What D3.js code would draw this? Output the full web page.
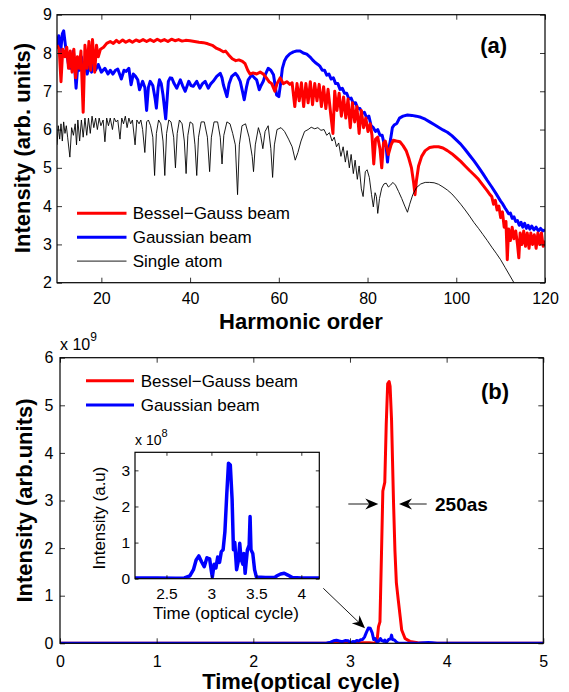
<!DOCTYPE html>
<html>
<head>
<meta charset="utf-8">
<script src="https://cdn.jsdelivr.net/npm/d3@7"></script>
<style>
body { margin: 0; background: #fff; }
svg { display: block; }
text { font-family: "Liberation Sans", Arial, Helvetica, sans-serif; fill: #000; }
</style>
</head>
<body>
<script>
// ---------------- data: panel (a), harmonic spectra (log10 intensity) ----------------
var besselGauss = [
  [10,8.2],[10.5,8.1],[10.9,7.25],[11.3,8.1],[11.8,7.9],[12.2,8.15],[12.6,7.6],[13,8.05],[13.4,7.5],[13.8,8.1],
  [14.2,7.35],[14.6,7.9],[15,7.6],[15.4,8.05],[15.9,6.45],[16.3,8.2],[16.8,7.6],[17.2,8.3],[17.6,7.55],[18,8.35],
  [18.5,7.5],[18.9,8.2],[19.3,7.9],[19.8,8.1],[20.5,8.15],[21.2,8.25],[22,8.3],[22.7,8.25],[23.4,8.33],[24,8.27],
  [24.8,8.34],[25.5,8.28],[26.3,8.33],[27,8.28],[27.8,8.34],[28.6,8.3],[29.4,8.35],[30.2,8.3],[31,8.35],[31.8,8.3],
  [32.6,8.36],[33.4,8.31],[34.2,8.35],[35,8.3],[35.8,8.36],[36.6,8.32],[37.4,8.35],[38.2,8.31],[39,8.33],[40,8.32],
  [41,8.3],[42,8.28],[43,8.27],[44,8.24],[45,8.2],[46,8.12],[46.8,8.08],[47.5,8.03],[48,8.05],[48.7,7.95],
  [49.5,7.85],[50.3,7.8],[51,7.82],[51.8,7.78],[52.4,7.72],[53,7.55],[53.5,7.45],[54.2,7.48],[55,7.45],[55.8,7.5],
  [56.5,7.45],[57.2,7.35],[57.8,7.25],[58.4,7.2],[59.1,7.0],[59.6,7.2],[60.3,7.35],[61,7.2],[61.8,7.25],[62.5,7.18],
  [63,7.22],[63.6,6.6],[64.1,7.2],[64.6,6.75],[65.1,7.22],[65.6,6.6],[66.1,7.2],[66.6,6.7],[67.1,7.25],[67.6,6.65],
  [68.1,7.2],[68.6,6.75],[69.1,7.18],[69.6,6.6],[70.1,7.12],[70.6,6.55],[71.1,7.05],[71.7,6.4],[72.2,5.9],[72.6,7.0],
  [73.1,6.5],[73.6,6.95],[74.1,6.35],[74.6,6.85],[75.1,6.3],[75.6,6.8],[76.1,6.05],[76.6,6.7],[77.1,6.2],[77.6,6.6],
  [78.1,5.9],[78.6,6.5],[79.1,6.05],[79.6,6.3],[80.1,5.95],[80.6,6.15],[81,5.85],[81.4,5.1],[81.8,5.75],[82.3,5.8],
  [82.8,5.5],[83.2,5.0],[83.6,5.65],[84,5.7],[84.7,5.35],[85.3,5.6],[85.8,5.72],[86.5,5.7],[87.3,5.68],[88,5.58],
  [88.7,5.45],[89.3,5.25],[89.9,5.0],[90.4,4.6],[90.7,4.3],[91,4.65],[91.5,5.05],[92.2,5.3],[93,5.45],[94,5.53],
  [95,5.55],[96,5.55],[97,5.52],[98,5.45],[99,5.37],[100,5.27],[101,5.17],[102,5.05],[103,4.93],[104,4.82],
  [105,4.7],[106,4.55],[107,4.4],[107.6,4.3],[108,4.25],[108.4,4.05],[108.8,4.15],[109.2,3.9],[109.6,4.0],[110,3.7],
  [110.4,3.85],[110.8,3.45],[111.2,3.6],[111.5,2.6],[111.8,3.4],[112.2,3.1],[112.6,3.45],[113,3.15],[113.4,3.35],[113.8,3.0],
  [114.1,2.65],[114.4,3.3],[114.8,3.0],[115.2,3.35],[115.6,2.95],[116,3.3],[116.4,2.9],[116.8,3.3],[117.2,3.0],[117.6,3.25],
  [118,2.9],[118.4,3.3],[118.8,3.0],[119.2,3.3],[119.6,2.95],[120,3.1]
];

var gaussian = [
  [10,8.2],[10.4,8.45],[10.8,8.0],[11.2,8.5],[11.5,8.58],[11.9,8.2],[12.2,8.0],[12.6,7.7],[13,7.6],[13.4,7.9],
  [13.7,8.05],[14,7.6],[14.3,7.08],[14.7,7.7],[15.1,7.55],[15.5,7.9],[15.9,7.5],[16.3,7.7],[16.8,7.45],[17.3,7.65],
  [17.8,7.5],[18.2,7.78],[18.7,7.55],[19.3,7.7],[20,7.5],[20.8,7.6],[21.5,7.45],[22,7.55],[22.6,7.45],[23.2,7.55],
  [23.7,7.58],[24.5,7.32],[25.1,7.55],[25.6,7.52],[26.2,7.6],[26.7,7.17],[27.2,7.45],[27.7,7.39],[28.2,7.3],[28.6,7.04],
  [29.3,7.26],[29.8,7.1],[30.2,6.5],[30.6,7.1],[31,7.26],[31.6,7.15],[32.1,6.82],[32.4,6.56],[32.8,7.1],[33.1,7.3],
  [33.5,7.2],[33.9,6.9],[34.5,6.28],[35.1,7.26],[35.5,7.35],[35.9,7.34],[36.4,7.2],[37,7.08],[37.8,7.3],[38.3,7.15],
  [38.9,7.0],[39.7,7.26],[40.2,7.15],[40.7,7.13],[41.5,7.26],[42.2,7.08],[42.8,7.2],[43.4,7.26],[44.1,7.08],[44.7,7.2],
  [45.2,7.26],[46,7.39],[46.8,7.47],[47.2,7.35],[47.5,7.17],[48.3,6.86],[48.8,7.2],[49.4,7.39],[50.2,7.47],[50.7,7.4],
  [51.3,7.26],[51.8,7.0],[52.2,6.78],[52.7,7.1],[53.1,7.3],[53.9,7.43],[54.5,7.35],[55,7.3],[55.6,7.04],[56,7.15],
  [56.5,7.26],[57,7.45],[57.6,7.6],[58.2,7.55],[58.8,7.43],[59.5,6.9],[60,6.86],[60.4,7.2],[60.8,7.6],[61.3,7.8],
  [61.8,7.9],[62.5,7.98],[63.3,8.03],[64,8.05],[64.8,8.05],[65.5,8.0],[66.3,7.97],[67,7.9],[67.6,7.82],[68.2,7.75],
  [68.8,7.7],[69.3,7.65],[69.8,7.55],[70.3,7.55],[70.8,7.42],[71.3,7.45],[71.8,7.32],[72.3,7.35],[72.8,7.2],[73.3,7.2],
  [73.8,7.05],[74.3,7.08],[74.8,6.95],[75.3,6.95],[75.8,6.8],[76.3,6.82],[76.8,6.68],[77.3,6.7],[77.8,6.55],[78.3,6.55],
  [78.8,6.42],[79.3,6.45],[79.8,6.3],[80.3,6.35],[80.8,6.1],[81.3,6.05],[81.8,5.95],[82.3,6.0],[82.8,5.85],[83.3,5.85],
  [83.8,5.6],[84.2,5.55],[84.5,5.15],[84.8,5.5],[85.2,5.75],[85.6,6.05],[86,6.12],[86.6,6.16],[87.2,6.3],[88,6.35],
  [89,6.38],[90,6.37],[91,6.35],[92,6.32],[93,6.27],[94,6.2],[95,6.13],[96,6.06],[97,5.99],[98,5.93],
  [99,5.84],[100,5.73],[101,5.62],[102,5.48],[103,5.33],[104,5.18],[105,5.02],[106,4.85],[107,4.67],[108,4.5],
  [109,4.32],[110,4.13],[110.5,4.05],[111,3.95],[111.4,3.88],[111.8,3.8],[112.2,3.82],[112.6,3.68],[113,3.72],[113.4,3.6],
  [113.8,3.62],[114.2,3.5],[114.6,3.58],[115,3.45],[115.4,3.55],[115.8,3.42],[116.2,3.5],[116.6,3.4],[117,3.48],[117.5,3.38],
  [118,3.45],[118.5,3.35],[119,3.42],[119.5,3.35],[120,3.38]
];

var singleAtom = [
  [10,5.6],[10.3,6.1],[10.6,5.75],[10.9,6.15],[11.2,5.7],[11.5,6.2],[11.8,5.9],[12.1,6.1],[12.4,5.8],[12.9,5.28],
  [13.3,6.05],[13.7,5.85],[14.1,6.15],[14.4,5.6],[14.7,6.25],[15.1,5.7],[15.5,6.25],[15.9,5.8],[16.3,6.3],[16.7,5.85],
  [17.1,6.3],[17.5,5.9],[17.9,6.35],[18.3,6.05],[18.7,6.3],[19.1,6.0],[19.5,6.3],[19.9,6.1],[20.4,6.25],[20.8,5.68],
  [21.2,6.3],[21.6,6.1],[22,6.3],[22.5,6.0],[22.9,6.3],[23.3,6.2],[23.7,6.25],[24.2,5.75],[24.6,6.3],[25,6.15],
  [25.4,6.35],[25.8,6.05],[26.2,6.3],[26.6,6.15],[27,6.25],[27.6,5.6],[28,6.25],[28.5,6.15],[28.9,6.25],[29.3,6.0],
  [29.8,5.4],[30.2,6.2],[30.6,6.25],[31.1,6.1],[31.6,5.8],[32,4.8],[32.4,5.9],[32.9,6.25],[33.4,6.15],[33.9,5.7],
  [34.3,4.8],[34.7,5.9],[35.2,6.25],[35.7,6.2],[36.3,5.8],[36.7,5.0],[37.1,5.9],[37.6,6.25],[38.2,6.15],[38.7,5.7],
  [39.1,4.85],[39.5,5.85],[40,6.2],[40.6,6.15],[41.1,5.6],[41.5,4.8],[41.9,5.8],[42.5,6.2],[43.2,6.2],[43.9,5.8],
  [44.4,4.9],[44.8,5.8],[45.4,6.2],[46.2,6.2],[46.8,5.8],[47.2,5.1],[47.6,5.85],[48.3,6.2],[49,6.15],[49.6,5.9],
  [50.2,5.6],[50.7,4.3],[51.1,5.6],[51.7,6.1],[52.5,6.15],[53.3,5.8],[54,5.3],[54.3,4.9],[54.7,5.6],[55.4,6.05],
  [55.9,5.85],[56.4,5.5],[56.9,5.95],[57.6,6.1],[58.2,5.5],[58.6,4.75],[59,5.6],[59.6,6.0],[60.5,6.05],[61.3,5.95],
  [62.2,5.75],[63,5.55],[63.7,5.2],[64.3,5.4],[65,5.7],[65.8,5.95],[66.6,6.0],[67.3,6.06],[68.1,6.02],[68.8,6.05],
  [69.5,5.98],[70.2,6.0],[70.8,5.85],[71.4,5.92],[72,5.7],[72.5,5.8],[73,5.55],[73.5,5.65],[74,5.3],[74.5,5.55],
  [75,5.15],[75.4,5.45],[75.9,5.0],[76.3,5.35],[76.8,4.85],[77.2,5.2],[77.7,4.7],[78.1,5.05],[78.6,4.45],[79,4.25],
  [79.5,4.9],[79.9,4.95],[80.4,4.75],[80.9,4.3],[81.3,3.98],[81.7,4.35],[82,4.25],[82.3,3.81],[82.7,4.2],[83.2,4.47],
  [83.7,4.58],[84.2,4.6],[84.7,4.5],[85.2,4.55],[85.7,4.62],[86.3,4.55],[87,4.38],[87.7,4.2],[88.4,4.0],[89,3.84],
  [89.5,4.05],[90.2,4.3],[91,4.48],[92,4.58],[93,4.62],[94,4.62],[95,4.61],[96,4.57],[97,4.5],[98,4.42],
  [99,4.32],[100,4.19],[101,4.05],[102,3.9],[103,3.74],[104,3.57],[105,3.42],[106,3.26],[107,3.1],[108,2.93],
  [109,2.77],[110,2.6],[111,2.4],[112,2.2],[113,2.0],[114,1.78]
];

// ---------------- data: panel (b), attosecond pulses ----------------
// red pulse in units of 1e9, blue pulse in units of 1e8
var besselPulse = [
  [0,0],[2.8,0],[2.9,0.01],[3.0,0],[3.1,0.01],[3.2,0.01],[3.25,0],[3.28,0.05],[3.295,0.35],[3.31,0.45],
  [3.325,1.8],[3.34,3.2],[3.36,3.38],[3.375,4.6],[3.39,5.45],[3.405,5.5],[3.415,5.4],[3.43,4.7],[3.45,3.0],[3.465,1.95],
  [3.48,1.27],[3.5,0.9],[3.52,0.55],[3.535,0.28],[3.57,0.1],[3.62,0.04],[3.7,0.01],[3.8,0],[5,0]
];
var gaussPulse = [
  [0,0.02],[2.4,0.02],[2.6,0.01],[2.7,0.02],[2.76,0.08],[2.8,0.25],[2.83,0.52],[2.86,0.63],[2.89,0.47],[2.92,0.33],
  [2.95,0.58],[2.98,0.55],[3.0,0.2],[3.01,0.05],[3.03,0.4],[3.05,0.3],[3.07,0.6],[3.09,0.45],[3.11,0.75],[3.13,0.8],
  [3.15,1.3],[3.17,2.3],[3.19,3.2],[3.21,3.15],[3.23,2.2],[3.245,0.8],[3.26,1.0],[3.28,0.25],[3.3,0.5],[3.315,0.98],
  [3.33,0.55],[3.35,0.4],[3.36,0.7],[3.375,0.15],[3.4,0.8],[3.42,0.93],[3.43,1.72],[3.44,0.8],[3.46,0.7],[3.48,0.25],
  [3.5,0.05],[3.6,0.03],[3.7,0.03],[3.73,0.08],[3.77,0.13],[3.81,0.15],[3.85,0.1],[3.9,0.03],[4.0,0.02],[5,0.02]
];

var ticksA_x = [20, 40, 60, 80, 100, 120];
var ticksA_y = [2, 3, 4, 5, 6, 7, 8, 9];
var ticksB_x = [0, 1, 2, 3, 4, 5];
var ticksB_y = [0, 1, 2, 3, 4, 5, 6];      // x 10^9
var ticksIn_x = [2.5, 3, 3.5, 4];
var ticksIn_y = [0, 1, 2, 3];              // x 10^8

var legendA = ["Bessel\u2212Gauss beam", "Gaussian beam", "Single atom"];
var legendB = ["Bessel\u2212Gauss beam", "Gaussian beam"];

var RED = "#ff0000", BLUE = "#0000ff";

var svg = d3.select("body").append("svg").attr("width", 569).attr("height", 692);

function plain(d) { return String(d); }

// draws a MATLAB style box with inward ticks on all four sides
function box(g, x, y, xt, yt, o) {
	var xr = x.range(), yr = y.range();
	g.append("g").attr("transform", "translate(0," + yr[0] + ")")
		.call(d3.axisBottom(x).tickValues(xt).tickSizeInner(-o.len).tickSizeOuter(0).tickPadding(o.padX).tickFormat(o.fx || plain));
	g.append("g").attr("transform", "translate(0," + yr[1] + ")")
		.call(d3.axisTop(x).tickValues(xt).tickSizeInner(-o.len).tickSizeOuter(0).tickFormat(""));
	g.append("g").attr("transform", "translate(" + xr[0] + ",0)")
		.call(d3.axisLeft(y).tickValues(yt).tickSizeInner(-o.len).tickSizeOuter(0).tickPadding(o.padY).tickFormat(o.fy || plain));
	g.append("g").attr("transform", "translate(" + xr[1] + ",0)")
		.call(d3.axisRight(y).tickValues(yt).tickSizeInner(-o.len).tickSizeOuter(0).tickFormat(""));
	g.selectAll(".domain").remove();
	g.selectAll(".tick line").attr("stroke", "#000").attr("stroke-width", 0.8);
	g.selectAll(".tick text").attr("font-size", o.fs).attr("font-family", "Liberation Sans, Arial, sans-serif").attr("fill", "#000");
	g.append("rect").attr("x", xr[0]).attr("y", yr[1]).attr("width", xr[1] - xr[0]).attr("height", yr[0] - yr[1])
		.attr("fill", "none").attr("stroke", "#000").attr("stroke-width", 1.2);
}

function clip(id, x, y) {
	svg.append("clipPath").attr("id", id).append("rect")
		.attr("x", x.range()[0]).attr("y", y.range()[1])
		.attr("width", x.range()[1] - x.range()[0]).attr("height", y.range()[0] - y.range()[1]);
}

// arrow head (concave back) at (x2,y2), line from (x1,y1)
function arrow(g, x1, y1, x2, y2, len, half, notch) {
	var a = Math.atan2(y2 - y1, x2 - x1), c = Math.cos(a), s = Math.sin(a);
	g.append("line").attr("x1", x1).attr("y1", y1).attr("x2", x2 - c * notch).attr("y2", y2 - s * notch)
		.attr("stroke", "#000").attr("stroke-width", 0.9);
	var bx = x2 - c * len, by = y2 - s * len;
	var p = [[x2, y2], [bx - s * half, by + c * half], [x2 - c * (len - notch), y2 - s * (len - notch)], [bx + s * half, by - c * half]];
	g.append("path").attr("d", "M" + p.join("L") + "Z").attr("fill", "#000");
}

////////////////////////////////////////////////////////////////////////////////
// panel (a)
var xa = d3.scaleLinear().domain([10, 120]).range([57, 545]);
var ya = d3.scaleLinear().domain([2, 9]).range([282.7, 14.7]);
clip("clipA", xa, ya);

var lineA = d3.line().x(function(d) { return xa(d[0]); }).y(function(d) { return ya(d[1]); });
var gA = svg.append("g");
var plotA = gA.append("g").attr("clip-path", "url(#clipA)");
plotA.append("path").datum(gaussian).attr("d", lineA).attr("fill", "none").attr("stroke", BLUE).attr("stroke-width", 3).attr("stroke-linejoin", "round");
plotA.append("path").datum(besselGauss).attr("d", lineA).attr("fill", "none").attr("stroke", RED).attr("stroke-width", 3).attr("stroke-linejoin", "round");
plotA.append("path").datum(singleAtom).attr("d", lineA).attr("fill", "none").attr("stroke", "#000").attr("stroke-width", 0.9);

box(gA, xa, ya, ticksA_x, ticksA_y, {len: 5, padX: 10, padY: 5, fs: 16});

// legend (a)
var legA = gA.append("g");
[[RED, 3], [BLUE, 3], ["#000", 0.9]].forEach(function(st, i) {
	var yy = 213.3 + i * 23.9;
	legA.append("line").attr("x1", 77).attr("x2", 126.5).attr("y1", yy).attr("y2", yy).attr("stroke", st[0]).attr("stroke-width", st[1]);
	legA.append("text").attr("x", 132.7).attr("y", yy).attr("dy", "0.35em").attr("font-size", 17).text(legendA[i]);
});

gA.append("text").attr("x", 493.7).attr("y", 45).attr("dy", "0.35em").attr("text-anchor", "middle")
	.attr("font-size", 22).attr("font-weight", "bold").text("(a)");
gA.append("text").attr("x", 301).attr("y", 328.5).attr("text-anchor", "middle")
	.attr("font-size", 22).attr("font-weight", "bold").text("Harmonic order");
gA.append("text").attr("transform", "translate(30,148) rotate(-90)").attr("text-anchor", "middle")
	.attr("font-size", 22).attr("font-weight", "bold").text("Intensity (arb. units)");

////////////////////////////////////////////////////////////////////////////////
// panel (b)
var xb = d3.scaleLinear().domain([0, 5]).range([60, 543.3]);
var yb = d3.scaleLinear().domain([0, 6e9]).range([643.3, 357.7]);
clip("clipB", xb, yb);

var gB = svg.append("g");
var plotB = gB.append("g").attr("clip-path", "url(#clipB)");
var lineRedB = d3.line().x(function(d) { return xb(d[0]); }).y(function(d) { return yb(d[1] * 1e9); });
var lineBlueB = d3.line().x(function(d) { return xb(d[0]); }).y(function(d) { return yb(d[1] * 1e8); });
plotB.append("path").datum(besselPulse).attr("d", lineRedB).attr("fill", "none").attr("stroke", RED).attr("stroke-width", 3).attr("stroke-linejoin", "round");
plotB.append("path").datum(gaussPulse).attr("d", lineBlueB).attr("fill", "none").attr("stroke", BLUE).attr("stroke-width", 3).attr("stroke-linejoin", "round");

box(gB, xb, yb, ticksB_x, ticksB_y.map(function(v) { return v * 1e9; }),
	{len: 5, padX: 12, padY: 6.5, fs: 16, fy: function(d) { return String(Math.round(d / 1e9)); }});

var legB = gB.append("g");
[RED, BLUE].forEach(function(c, i) {
	var yy = 380.7 + i * 24.3;
	legB.append("line").attr("x1", 86).attr("x2", 134).attr("y1", yy).attr("y2", yy).attr("stroke", c).attr("stroke-width", 3);
	legB.append("text").attr("x", 140.7).attr("y", yy).attr("dy", "0.35em").attr("font-size", 17).text(legendB[i]);
});

var expB = gB.append("text").attr("x", 60).attr("y", 350).attr("font-size", 16);
expB.append("tspan").text("x 10");
expB.append("tspan").attr("font-size", 12).attr("dy", -9).text("9");

gB.append("text").attr("x", 495).attr("y", 391.7).attr("dy", "0.35em").attr("text-anchor", "middle")
	.attr("font-size", 22).attr("font-weight", "bold").text("(b)");
gB.append("text").attr("x", 301).attr("y", 688.5).attr("text-anchor", "middle")
	.attr("font-size", 22).attr("font-weight", "bold").text("Time(optical cycle)");
gB.append("text").attr("transform", "translate(32,500.5) rotate(-90)").attr("text-anchor", "middle")
	.attr("font-size", 22).attr("font-weight", "bold").text("Intensity (arb.units)");

// FWHM arrows
arrow(gB, 348.3, 504, 378.3, 504, 13, 5.5, 4);
arrow(gB, 426.7, 504, 399, 504, 13, 5.5, 4);
gB.append("text").attr("x", 435).attr("y", 504).attr("dy", "0.35em")
	.attr("font-size", 19).attr("font-weight", "bold").text("250as");

// pointer to the Gaussian pulse
arrow(gB, 323.3, 588.3, 365, 628.3, 13, 5.5, 4);

////////////////////////////////////////////////////////////////////////////////
// inset
var xi = d3.scaleLinear().domain([2.15, 4.2]).range([135, 319.3]);
var yi = d3.scaleLinear().domain([0, 3.5e8]).range([578.7, 452.3]);
clip("clipI", xi, yi);

var gI = svg.append("g");
gI.append("rect").attr("x", 135).attr("y", 452.3).attr("width", 184.3).attr("height", 126.4).attr("fill", "#fff");
var lineI = d3.line().x(function(d) { return xi(d[0]); }).y(function(d) { return yi(d[1] * 1e8); });
gI.append("g").attr("clip-path", "url(#clipI)")
	.append("path").datum(gaussPulse).attr("d", lineI).attr("fill", "none").attr("stroke", BLUE).attr("stroke-width", 3.5).attr("stroke-linejoin", "round");

box(gI, xi, yi, ticksIn_x, ticksIn_y.map(function(v) { return v * 1e8; }),
	{len: 3.5, padX: 9.5, padY: 5, fs: 15.5, fy: function(d) { return String(Math.round(d / 1e8)); }});

var expI = gI.append("text").attr("x", 135).attr("y", 445).attr("font-size", 14);
expI.append("tspan").text("x 10");
expI.append("tspan").attr("font-size", 11).attr("dy", -8).text("8");

gI.append("text").attr("x", 226).attr("y", 619).attr("text-anchor", "middle").attr("font-size", 17).text("Time (optical cycle)");
gI.append("text").attr("transform", "translate(105,518) rotate(-90)").attr("text-anchor", "middle")
	.attr("font-size", 17).text("Intensity (a.u)");
</script>
</body>
</html>
